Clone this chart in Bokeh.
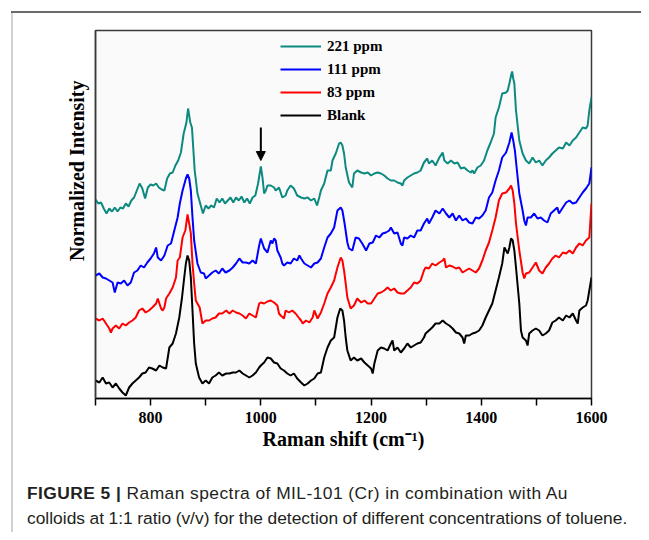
from bokeh.plotting import figure
from bokeh.models import (Range1d, FixedTicker, Legend, LegendItem, Arrow, NormalHead, Title, Div)
from bokeh.layouts import column, row
from bokeh.embed import file_html
from bokeh.resources import INLINE

# ---------------- data (Raman shift in cm-1, normalized intensity in a.u., offset stacked) -------------
x_221 = [700,705,710,715,720,725,730,735,740,745,750,755,760,765,770,775,780,785,790,795,800,805,810,815,
         820,825,830,835,840,845,850,855,860,865,868,872,875,880,885,890,895,900,905,910,915,920,925,930,
         935,940,945,950,955,960,965,970,975,980,985,990,995,1000,1003,1006,1009,1012,1018,1024,1027,1033,
         1039,1045,1048,1054,1060,1066,1073,1079,1085,1091,1097,1102,1106,1109,1115,1121,1127,1130,1136,
         1142,1145,1148,1151,1154,1160,1166,1169,1175,1182,1188,1194,1200,1206,1212,1218,1224,1230,1236,
         1242,1248,1254,1257,1260,1266,1272,1278,1284,1290,1296,1302,1305,1311,1317,1324,1330,1333,1339,
         1345,1351,1357,1363,1369,1375,1381,1384,1387,1393,1399,1405,1411,1417,1423,1426,1432,1438,1445,
         1448,1451,1454,1456,1458,1460,1463,1469,1475,1481,1487,1493,1499,1505,1511,1517,1523,1529,1535,
         1541,1548,1554,1560,1566,1572,1578,1584,1590,1593,1596,1600]
y_221 = [199,195,196,190,185,190,187,191,187,191,190,195,192,198,201,208,215,210,200,211,214,213,215,211,
         209,208,220,225,226,233,238,246,265,276,290,276,271,228,205,195,185,193,190,193,191,200,196,200,
         195,198,201,196,201,198,202,196,200,195,201,203,215,232,221,205,208,213,213,211,208,211,
         201,203,208,213,210,203,201,200,201,198,200,193,201,208,215,228,228,238,245,
         255,256,253,245,231,216,211,225,228,226,225,226,223,225,226,225,223,220,218,
         218,216,215,213,218,221,223,225,226,228,236,240,235,238,233,241,246,238,235,
         238,235,236,230,231,228,226,228,225,231,233,238,248,256,265,281,291,305,306,
         308,315,323,327,320,315,288,258,245,238,235,241,236,238,233,238,241,245,248,
         251,250,256,253,258,261,266,271,270,273,288,301]

x_111 = [700,707,713,719,725,731,735,740,746,752,758,764,770,776,782,788,794,800,806,810,813,819,825,831,
         837,843,849,853,858,864,867,870,873,876,879,885,891,897,900,906,912,918,924,930,936,943,949,955,
         961,967,973,979,985,991,997,1000,1006,1012,1018,1021,1024,1027,1030,1036,1039,1042,1048,1054,
         1060,1066,1070,1073,1079,1085,1091,1097,1103,1109,1115,1121,1127,1133,1139,1145,1148,1152,1157,
         1160,1166,1172,1178,1184,1191,1197,1203,1209,1215,1221,1227,1233,1236,1242,1248,1254,1257,1260,
         1266,1272,1278,1284,1290,1296,1302,1305,1311,1317,1324,1330,1336,1342,1348,1354,1360,1366,1372,
         1378,1384,1390,1396,1402,1408,1414,1420,1426,1432,1438,1445,1451,1455,1458,1461,1466,1469,1475,
         1478,1481,1484,1490,1496,1502,1508,1514,1520,1526,1532,1538,1541,1548,1554,1560,1566,1572,1578,
         1584,1590,1596,1600]
y_111 = [123,125,121,120,118,116,106,116,115,118,113,116,126,128,133,131,136,140,145,151,141,138,143,153,
         155,168,181,195,208,220,224,220,208,181,158,135,126,125,120,123,126,128,125,130,126,128,131,135,
         140,136,136,135,138,135,153,160,150,146,158,155,160,158,148,141,135,133,136,135,
         140,138,143,140,135,133,131,135,136,140,151,161,165,171,188,191,188,175,156,
         150,148,161,160,155,148,155,156,163,161,165,166,168,171,165,166,155,153,161,
         160,163,161,168,168,175,180,175,181,188,185,190,185,181,185,178,183,178,180,
         176,175,181,180,183,188,201,206,218,228,241,246,256,266,258,248,221,205,188,
         178,173,181,181,185,180,181,178,176,185,188,191,185,191,196,198,195,196,201,
         206,210,215,231]

x_83 = [700,707,713,719,725,728,731,737,743,749,755,761,767,773,779,785,791,797,803,810,813,816,819,822,
        825,828,834,840,846,849,853,858,863,867,870,873,876,879,882,885,889,894,900,906,912,918,924,930,
        937,943,949,955,961,967,973,979,985,991,997,1000,1006,1012,1018,1024,1030,1033,1036,1042,1045,
        1051,1057,1063,1070,1073,1076,1082,1088,1094,1097,1103,1109,1115,1121,1127,1133,1139,1145,1148,
        1151,1154,1157,1163,1169,1175,1182,1188,1194,1200,1206,1212,1218,1224,1230,1236,1242,1248,1254,
        1260,1266,1272,1278,1284,1290,1296,1299,1305,1311,1317,1324,1330,1333,1336,1342,1348,1354,1360,
        1366,1372,1378,1384,1390,1396,1402,1408,1414,1420,1426,1432,1438,1445,1451,1454,1457,1460,1463,
        1469,1475,1478,1481,1487,1493,1499,1505,1511,1517,1523,1529,1535,1541,1548,1554,1560,1566,1572,
        1578,1584,1590,1596,1600]
y_83 = [80,78,80,75,70,66,70,73,70,75,73,76,78,81,88,90,86,88,91,95,100,95,90,88,
        91,100,105,111,121,138,141,161,168,184,175,165,135,115,98,95,91,75,78,78,80,81,85,85,
        88,85,88,86,85,83,80,85,83,81,95,96,95,97,98,96,93,85,83,80,88,
        86,88,85,80,78,75,78,76,81,88,80,86,95,105,111,118,131,141,138,
        128,115,101,90,93,100,96,98,95,95,100,105,106,108,111,108,110,106,105,
        105,108,111,116,115,118,128,131,130,135,133,136,138,140,131,133,132,130,131,
        126,128,130,128,126,130,138,148,156,168,181,198,205,206,210,213,208,195,175,
        148,126,120,125,126,131,136,128,125,131,135,140,143,141,146,145,148,145,151,
        155,153,158,161,195]

x_blank = [700,707,713,719,725,731,737,743,749,755,761,767,773,779,785,791,797,803,810,816,822,828,834,840,
           846,852,857,861,864,867,870,873,876,879,882,888,894,900,906,912,918,924,930,937,943,949,955,961,
           967,973,979,985,991,997,1000,1006,1012,1018,1024,1030,1036,1042,1048,1054,1060,1066,1073,1079,
           1085,1091,1097,1103,1109,1115,1121,1127,1133,1139,1144,1148,1151,1154,1157,1163,1169,1175,1182,
           1188,1194,1200,1203,1206,1212,1218,1224,1230,1236,1239,1242,1248,1254,1260,1266,1272,1278,1284,
           1290,1296,1299,1305,1311,1317,1324,1330,1336,1342,1348,1354,1360,1366,1369,1372,1378,1384,1390,
           1396,1402,1408,1414,1420,1426,1432,1438,1442,1445,1448,1451,1454,1457,1460,1463,1469,1472,1475,
           1481,1484,1487,1493,1499,1505,1511,1517,1523,1529,1535,1541,1548,1554,1560,1566,1572,1575,1578,
           1584,1590,1593,1596,1600]
y_blank = [18,16,21,15,16,11,15,10,6,3,11,15,18,21,25,26,31,30,28,33,31,30,51,55,
           65,81,101,121,135,143,138,121,88,55,35,21,15,18,15,21,23,26,23,25,25,26,26,28,
           25,23,21,23,26,31,33,36,41,40,36,35,30,28,25,23,25,20,16,13,
           15,18,20,25,26,41,51,58,61,81,90,88,78,61,48,38,41,38,40,
           36,33,30,25,35,48,51,50,48,55,58,48,51,46,50,55,51,53,55,
           56,61,65,68,71,75,75,78,75,73,70,66,65,61,55,63,63,65,66,
           68,73,81,88,95,108,121,135,151,148,145,151,160,158,148,131,95,68,61,
           58,53,65,68,70,68,63,65,68,76,78,81,78,83,81,85,78,75,88,
           91,93,98,108,121]

series_labels = ["221 ppm", "111 ppm", "83 ppm", "Blank"]
series_colors = ["#0c8a80", "#0000ff", "#ff0000", "#000000"]

x_ticks = [700, 800, 900, 1000, 1100, 1200, 1300, 1400, 1500, 1600]
x_tick_labels = ["", "800", "", "1000", "", "1200", "", "1400", "", "1600"]

x_title = "Raman shift (cm\u207b\u00b9)"
y_title = "Normalized Intensity"
caption_bold = "FIGURE 5 |"
caption_line1 = "Raman spectra of MIL-101 (Cr) in combination with Au"
caption_line2 = "colloids at 1:1 ratio (v/v) for the detection of different concentrations of toluene."

# marked band (arrow) at 1000 cm-1
arrow_x = 1000
arrow_y_from = 271
arrow_y_to = 238

SERIF = "Liberation Serif"
SANS = "Liberation Sans"

p = figure(width=628, height=457, output_backend="svg", toolbar_location=None,
           x_range=Range1d(700, 1600), y_range=Range1d(0, 368), title=None,
           min_border_left=82, min_border_right=50, min_border_top=17, min_border_bottom=72,
           margin=0)
p.background_fill_color = "#fafafa"
p.border_fill_color = "white"
p.outline_line_color = "#3a3a3a"
p.outline_line_width = 1.5
p.xgrid.visible = False
p.ygrid.visible = False

xa = p.xaxis[0]
xa.ticker = FixedTicker(ticks=x_ticks)
xa.major_label_overrides = dict(zip(x_ticks, x_tick_labels))
xa.minor_tick_line_color = None
xa.major_tick_in = 0
xa.major_tick_out = 7
xa.major_tick_line_width = 1.5
xa.axis_line_width = 1.5
xa.axis_line_color = "black"
xa.major_label_standoff = 6
xa.major_label_text_font = SERIF
xa.major_label_text_font_style = "bold"
xa.major_label_text_font_size = "16px"
xa.major_label_text_color = "black"
xa.axis_label = x_title
xa.axis_label_text_font = SERIF
xa.axis_label_text_font_style = "bold"
xa.axis_label_text_font_size = "20px"
xa.axis_label_text_color = "black"
xa.axis_label_standoff = 2

ya = p.yaxis[0]
ya.ticker = FixedTicker(ticks=[])
ya.minor_tick_line_color = None
ya.major_tick_line_color = None
ya.major_tick_out = 0
ya.major_tick_in = 0
ya.major_label_standoff = 0
ya.major_label_text_font_size = "0px"
ya.axis_line_color = "#3a3a3a"
ya.axis_line_width = 1.5

# rotated y title, placed toward the top like the original
p.add_layout(Title(text=y_title, align="right", offset=50, standoff=15,
                   text_font=SERIF, text_font_style="bold", text_font_size="20px",
                   text_color="black"), "left")

xs = [x_221, x_111, x_83, x_blank]
ys = [y_221, y_111, y_83, y_blank]
renderers = []
for xv, yv, c in zip(xs, ys, series_colors):
    renderers.append(p.line(xv, yv, line_color=c, line_width=2))

legend = Legend(items=[LegendItem(label=l, renderers=[r]) for l, r in zip(series_labels, renderers)],
                location=(185, 273), orientation="vertical",
                padding=0, margin=0, spacing=3,
                glyph_width=41, glyph_height=20, label_height=20, label_standoff=6,
                label_text_font=SERIF, label_text_font_style="bold", label_text_font_size="15px",
                label_text_color="black",
                background_fill_alpha=0, border_line_color=None)
p.add_layout(legend)

p.add_layout(Arrow(end=NormalHead(size=9, fill_color="black", line_color="black", line_width=1),
                   x_start=arrow_x, y_start=arrow_y_from, x_end=arrow_x, y_end=arrow_y_to,
                   line_color="black", line_width=2))

# caption (HTML text below the chart)
caption_html = (
    '<div style="padding:11px 0 0 14px; font-family:\'Liberation Sans\', Arial, sans-serif; '
    'font-size:17.4px; line-height:25px; color:#231f20; white-space:nowrap;">'
    f'<span style="letter-spacing:0.44px;"><b>{caption_bold}</b> {caption_line1}</span><br>'
    f'<span style="word-spacing:-0.3px;">{caption_line2}</span></div>'
)
caption = Div(text=caption_html, width=628, height=62, margin=0)

# journal frame lines
top_line = Div(text="", width=630, height=2, margin=(11, 0, 0, 11),
               styles={"background-color": "#6a6a6a"})
left_line = Div(text="", width=2, height=519, margin=(0, 0, 0, 11),
                styles={"background-color": "#d2d2d2"})

layout = column(top_line, row(left_line, column(p, caption, spacing=0), spacing=0), spacing=0)

open("out.html", "w").write(file_html(layout, INLINE))
